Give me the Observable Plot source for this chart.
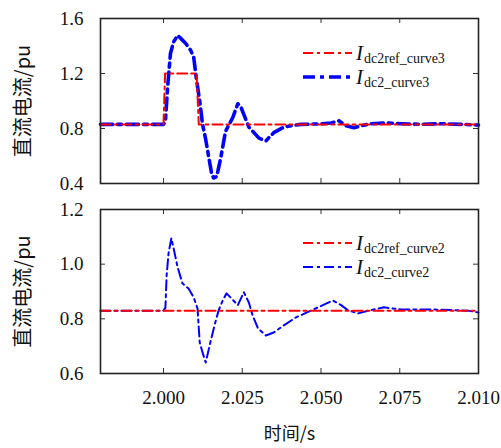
<!DOCTYPE html>
<html><head><meta charset="utf-8">
<script src="https://cdn.jsdelivr.net/npm/d3@7"></script>
<script src="https://cdn.jsdelivr.net/npm/@observablehq/plot@0.6"></script>
<style>
body{margin:0;background:#fff}
#c{width:501px;height:448px}
#c svg{display:block}
</style>
</head><body><div id="c"></div>
<script>
// ---- data ----
const xDomain = [1.98, 2.1];
const xTicks = [2.000, 2.025, 2.050, 2.075, 2.100];
const xTickLabels = ["2.000", "2.025", "2.050", "2.075", "2.010"];
const xTitle = "时间/s";
const yTitle = "直流电流/pu";

const topYDomain = [0.4, 1.6];
const topYTicks = [0.4, 0.8, 1.2, 1.6];
const bottomYDomain = [0.6, 1.2];
const bottomYTicks = [0.6, 0.8, 1.0, 1.2];

const topLegend = [
  {main: "I", sub: "dc2ref_curve3"},
  {main: "I", sub: "dc2_curve3"}
];
const bottomLegend = [
  {main: "I", sub: "dc2ref_curve2"},
  {main: "I", sub: "dc2_curve2"}
];

// Top panel: reference (red) and measured (blue)
const refTopT = [1.98, 2.000, 2.0005, 2.0105, 2.0112, 2.1];
const refTopV = [0.83, 0.83, 1.20, 1.20, 0.83, 0.83];
const curTopT = [1.98, 2.000, 2.0006, 2.0013, 2.0022, 2.0032, 2.0045, 2.0057, 2.007, 2.0086, 2.0096, 2.0105, 2.0115, 2.0124, 2.0134, 2.0143, 2.0153, 2.0159, 2.0169, 2.0182, 2.0197, 2.022, 2.0236, 2.0245, 2.0271, 2.0303, 2.0325, 2.035, 2.0382, 2.0404, 2.0436, 2.05, 2.0532, 2.0557, 2.058, 2.0605, 2.0627, 2.0659, 2.0707, 2.0755, 2.0818, 2.0882, 2.0946, 2.1];
const curTopV = [0.83, 0.83, 0.85, 1.10, 1.345, 1.43, 1.477, 1.45, 1.42, 1.37, 1.316, 1.15, 1.00, 0.83, 0.72, 0.60, 0.47, 0.44, 0.45, 0.59, 0.78, 0.88, 0.98, 0.96, 0.81, 0.73, 0.71, 0.77, 0.81, 0.82, 0.83, 0.834, 0.84, 0.856, 0.82, 0.805, 0.82, 0.835, 0.84, 0.835, 0.83, 0.835, 0.83, 0.825];

// Bottom panel
const refBotT = [1.98, 2.1];
const refBotV = [0.83, 0.83];
const curBotT = [1.98, 2.000, 2.0006, 2.001, 2.0016, 2.0025, 2.0032, 2.0045, 2.006, 2.008, 2.0096, 2.0108, 2.0115, 2.0124, 2.0134, 2.015, 2.0162, 2.0175, 2.0188, 2.02, 2.0213, 2.0236, 2.0255, 2.0271, 2.0283, 2.03, 2.0325, 2.035, 2.0382, 2.042, 2.0468, 2.0506, 2.0538, 2.0564, 2.0586, 2.0618, 2.065, 2.07, 2.0755, 2.086, 2.0968, 2.1];
const curBotV = [0.83, 0.83, 0.84, 0.96, 1.04, 1.095, 1.058, 0.988, 0.93, 0.91, 0.878, 0.838, 0.713, 0.677, 0.64, 0.72, 0.776, 0.831, 0.867, 0.893, 0.878, 0.85, 0.897, 0.86, 0.812, 0.765, 0.739, 0.75, 0.776, 0.805, 0.83, 0.85, 0.867, 0.85, 0.831, 0.82, 0.83, 0.842, 0.834, 0.834, 0.83, 0.823];

// ---- drawing ----
const W = 501, ML = 100, MR = 23;
const frameW = W - ML - MR;
const zip = (t, v) => t.map((d, i) => ({t: d, v: v[i]}));
const RED = "#ff0000", BLUE = "#0000ff";

function panel({height, marginTop, marginBottom, yDomain, yTicks, ref, cur, blueWidth, blueDash, showX, legend}) {
  const frameH = height - marginTop - marginBottom;
  const tick = 5;
  const marks = [
    Plot.line(cur, {x: "t", y: "v", stroke: BLUE, strokeWidth: blueWidth, strokeDasharray: blueDash}),
    Plot.line(ref, {x: "t", y: "v", stroke: RED, strokeWidth: 2, strokeDasharray: "10,4,3,4"}),
    // inward ticks
    Plot.tickX(xTicks, {x: d => d, insetTop: frameH - tick, stroke: "#333"}),
    Plot.tickX(xTicks, {x: d => d, insetBottom: frameH - tick, stroke: "#333"}),
    Plot.tickY(yTicks, {y: d => d, insetRight: frameW - tick, stroke: "#333"}),
    Plot.tickY(yTicks, {y: d => d, insetLeft: frameW - tick, stroke: "#333"}),
    Plot.axisY(yTicks, {anchor: "left", tickSize: 0, tickPadding: 17, tickFormat: d3.format(".1f"), fontSize: 19, fill: "#111"}),
    Plot.text([yTitle], {frameAnchor: "left", text: d => d, rotate: -90, textAnchor: "middle", lineAnchor: "middle", dx: -77, fontSize: 20, fontFamily: "Noto Sans CJK SC", fill: "#111"}),
    Plot.frame({stroke: "#222", strokeWidth: 1.6})
  ];
  if (showX) {
    marks.push(Plot.axisX(xTicks, {anchor: "bottom", tickSize: 0, tickPadding: 17, tickFormat: (d, i) => xTickLabels[i], fontSize: 19, fill: "#111"}));
    marks.push(Plot.text([xTitle], {frameAnchor: "bottom", text: d => d, textAnchor: "middle", lineAnchor: "middle", dy: 61, fontSize: 18, fontFamily: "Noto Sans CJK SC", fill: "#111"}));
  } else {
    marks.push(Plot.axisX({ticks: [], tickSize: 0, label: null}));
  }
  const svg = Plot.plot({
    width: W, height, marginLeft: ML, marginRight: MR, marginTop, marginBottom,
    style: "font-family: 'Liberation Serif', serif; font-size: 19px; background: #fff; overflow: visible;",
    x: {domain: xDomain, label: null},
    y: {domain: yDomain, label: null},
    marks
  });
  // legend
  const s = d3.select(svg);
  const styles = [
    {stroke: RED, width: 2, dash: "10,4,3,4"},
    {stroke: BLUE, width: blueWidth, dash: blueDash}
  ];
  const rowsY = [53, 77];
  legend.forEach((L, i) => {
    s.append("line").attr("x1", 303).attr("x2", 352).attr("y1", rowsY[i]).attr("y2", rowsY[i])
      .attr("stroke", styles[i].stroke).attr("stroke-width", styles[i].width).attr("stroke-dasharray", styles[i].dash);
    const t = s.append("text").attr("x", 356).attr("y", rowsY[i] + 7)
      .attr("text-anchor", "start")
      .attr("font-family", "'Liberation Serif', serif").attr("fill", "#111");
    t.append("tspan").attr("font-style", "italic").attr("font-size", 21).text(L.main);
    t.append("tspan").attr("font-size", 14).attr("dy", 3).attr("dx", 1).text(L.sub);
  });
  return svg;
}

const c = document.getElementById("c");
c.appendChild(panel({
  height: 190, marginTop: 18, marginBottom: 7,
  yDomain: topYDomain, yTicks: topYTicks,
  ref: zip(refTopT, refTopV), cur: zip(curTopT, curTopV),
  blueWidth: 3.6, blueDash: "12,5,4,5", showX: false, legend: topLegend
}));
c.appendChild(panel({
  height: 258, marginTop: 19, marginBottom: 75,
  yDomain: bottomYDomain, yTicks: bottomYTicks,
  ref: zip(refBotT, refBotV), cur: zip(curBotT, curBotV),
  blueWidth: 2, blueDash: "10,4,3,4", showX: true, legend: bottomLegend
}));
</script>
</body></html>
